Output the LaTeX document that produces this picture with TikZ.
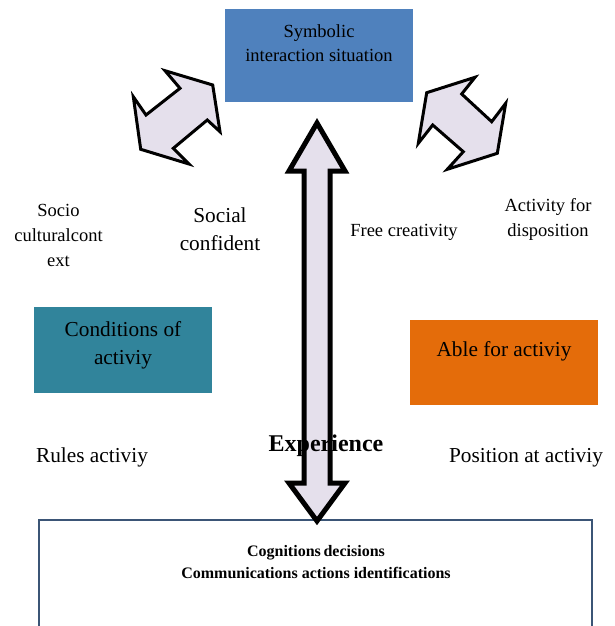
\documentclass[tikz,border=0pt]{standalone}
\usepackage{fontspec}
\setmainfont{Liberation Serif}
\definecolor{boxblue}{HTML}{4F81BD}
\definecolor{boxteal}{HTML}{31849B}
\definecolor{boxorange}{HTML}{E46C0A}
\definecolor{arrowfill}{HTML}{E5E0EC}
\definecolor{frameblue}{HTML}{3B5576}
\tikzset{
  lbl/.style={align=center, inner sep=0pt, text=black},
  fatfill/.style={fill=arrowfill},
  fatline/.style={draw=black, line width=5pt, line join=miter},
  diag/.style={fill=arrowfill, draw=black, line width=3pt, line join=miter},
}
\begin{document}
\begin{tikzpicture}[x=1pt,y=-1pt]
\useasboundingbox (0,0) rectangle (614,626);
% boxes
\fill[boxblue] (225,9) rectangle (413,102);
\node[lbl, font=\fontsize{18.5}{24}\selectfont] (sym) at (319,43) {Symbolic\\interaction situation};
\fill[boxteal] (34,307) rectangle (212,393);
\node[lbl, font=\fontsize{21.3}{28}\selectfont] (cond) at (123,345) {Conditions of\\activiy};
\fill[boxorange] (410,320) rectangle (598,405);
\node[lbl, font=\fontsize{21.3}{28}\selectfont] (able) at (504,351) {Able for activiy};
\draw[frameblue, line width=2pt] (39,640) -- (39,520) -- (592,520) -- (592,640);
\node[lbl, font=\bfseries\fontsize{16}{22}\selectfont] (cog) at (316,562) {Cognitions\,decisions\\Communications actions identifications};
% diagonal arrows
\draw[diag] (165,70.7) -- (212.7,85) -- (220,131.7) -- (207.3,120) -- (173.3,148.3) -- (189,164) -- (140.7,149.3) -- (133.3,96.7) -- (146,115) -- (180,88.3) -- cycle;
\draw[diag] (426.7,92.7) -- (475,77.3) -- (461.7,94) -- (491.7,121.7) -- (505.7,103.3) -- (497.3,153.3) -- (447.3,169.3) -- (463.3,151.7) -- (432.7,125) -- (418.3,143.3) -- cycle;
% labels
\node[lbl, font=\fontsize{18.5}{25}\selectfont] (socio) at (58.5,235) {Socio\\culturalcont\\ext};
\node[lbl, font=\fontsize{21.3}{28}\selectfont] (social) at (220,229) {Social\\confident};
\node[lbl, font=\fontsize{18.5}{25}\selectfont] (free) at (404,232) {Free creativity};
\node[lbl, font=\fontsize{18.5}{25}\selectfont] (disp) at (548,219) {Activity for\\disposition};
\node[lbl, font=\fontsize{21.3}{28}\selectfont] (rules) at (92,457) {Rules activiy};
\node[lbl, font=\fontsize{21.3}{28}\selectfont] (pos) at (526,458) {Position at activiy};
% vertical double arrow: fill, text, outline
\fill[fatfill] (317,123) -- (345,171) -- (330,171) -- (330,483) -- (345,483) -- (317,521) -- (289,483) -- (304,483) -- (304,171) -- (289,171) -- cycle;
\node[lbl, font=\bfseries\fontsize{24}{28}\selectfont] (exp) at (326,446) {Experience};
\draw[fatline] (317,123) -- (345,171) -- (330,171) -- (330,483) -- (345,483) -- (317,521) -- (289,483) -- (304,483) -- (304,171) -- (289,171) -- cycle;
\end{tikzpicture}
\end{document}
